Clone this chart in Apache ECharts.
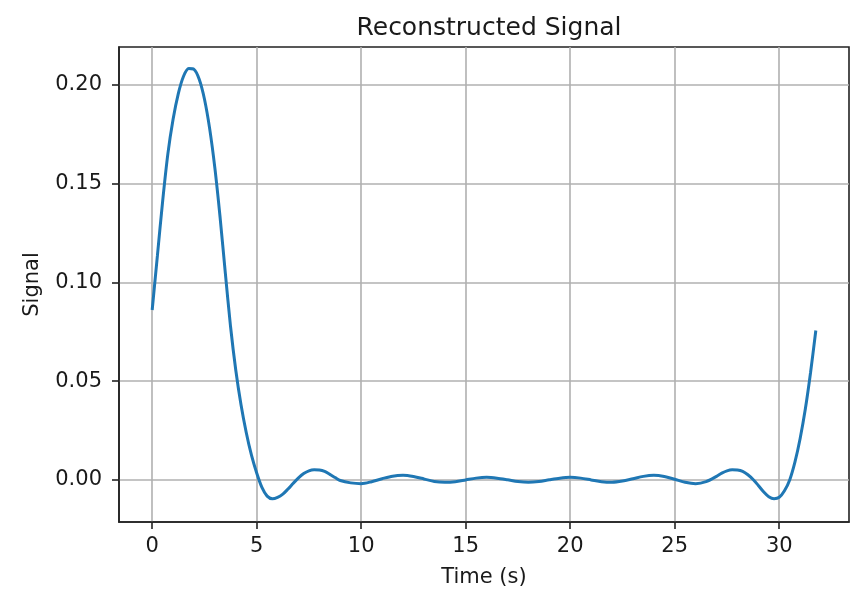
<!DOCTYPE html>
<html>
<head>
<meta charset="utf-8">
<script src="https://cdn.jsdelivr.net/npm/echarts@6/dist/echarts.min.js"></script>
<style>
html,body{margin:0;padding:0;background:#fff;}
#chart{width:857px;height:590px;}
</style>
</head>
<body>
<div id="chart"></div>
<script>
// Data
var timeValues = [0,0.25,0.5,0.75,1,1.25,1.5,1.75,2,2.25,2.5,2.75,3,3.25,3.5,3.75,4,4.25,4.5,4.75,5,5.25,5.5,5.75,6,6.25,6.5,6.75,7,7.25,7.5,7.75,8,8.25,8.5,8.75,9,9.5,10,10.5,11,11.5,12,12.5,13,13.5,14,14.5,15,15.5,16,16.5,17,17.5,18,18.5,19,19.5,20,20.5,21,21.5,22,22.5,23,23.5,24,24.5,25,25.5,26,26.5,27,27.25,27.5,27.75,28,28.25,28.5,28.75,29,29.25,29.5,29.75,30,30.25,30.5,30.75,31,31.25,31.5,31.75];
var signalValues = [0.086,0.1135,0.141,0.165,0.1825,0.1955,0.2043,0.2082,0.2078,0.2028,0.1928,0.1778,0.1578,0.1328,0.1047,0.0775,0.0555,0.038,0.024,0.0125,0.0035,-0.0038,-0.0082,-0.0095,-0.0088,-0.0072,-0.0046,-0.0017,0.001,0.0032,0.0046,0.0051,0.005,0.0043,0.0028,0.0012,-0.0003,-0.0015,-0.0019,-0.0009,0.0006,0.0019,0.0023,0.0017,0.0005,-0.0008,-0.0012,-0.0009,0.0000,0.0009,0.0013,0.0009,0.0001,-0.0008,-0.0012,-0.0008,0.0001,0.0009,0.0013,0.0009,0.0000,-0.0009,-0.0012,-0.0006,0.0006,0.0018,0.0023,0.0017,0.0003,-0.0012,-0.0019,-0.0009,0.0018,0.0034,0.0046,0.0051,0.005,0.0043,0.0026,0.0002,-0.0028,-0.006,-0.0085,-0.0095,-0.0088,-0.0055,0.0,0.009,0.021,0.036,0.0545,0.0756];
var xTicks = [0,5,10,15,20,25,30];
var yTicks = [0,0.05,0.10,0.15,0.20];
var titleText = 'Reconstructed Signal';
var xName = 'Time (s)';
var yName = 'Signal';

var seriesData = timeValues.map(function(t,i){return [t, signalValues[i]];});
var font = 'DejaVu Sans';
var axisColor = '#222';
var chart = echarts.init(document.getElementById('chart'), null, {renderer:'canvas'});
chart.setOption({
  animation:false,
  backgroundColor:'#fff',
  title:{text:titleText,left:484,textAlign:'center',top:11,
    textStyle:{fontFamily:font,fontSize:25,fontWeight:'normal',color:'#1a1a1a'}},
  grid:{left:119,right:8,top:47,bottom:68,show:true,borderColor:axisColor,borderWidth:1.6,
    backgroundColor:'transparent',containLabel:false,outerBoundsMode:'none'},
  xAxis:{type:'value',min:-1.5875,max:33.3375,
    name:xName,nameLocation:'middle',nameGap:45,
    nameTextStyle:{fontFamily:font,fontSize:21,color:'#1a1a1a'},
    axisLine:{show:true,onZero:false,lineStyle:{color:axisColor,width:1.6}},
    axisTick:{show:true,inside:false,length:7,customValues:xTicks,lineStyle:{color:axisColor,width:1.6}},
    axisLabel:{customValues:xTicks,margin:14,fontFamily:font,fontSize:21,color:'#1a1a1a'},
    splitLine:{show:true,lineStyle:{color:'#b0b0b0',width:1.6}}
  },
  yAxis:{type:'value',min:-0.0213,max:0.2191,
    name:yName,nameLocation:'middle',nameGap:76,
    nameTextStyle:{fontFamily:font,fontSize:21,color:'#1a1a1a'},
    axisLine:{show:true,onZero:false,lineStyle:{color:axisColor,width:1.6}},
    axisTick:{show:true,inside:false,length:7,customValues:yTicks,lineStyle:{color:axisColor,width:1.6}},
    axisLabel:{customValues:yTicks,margin:17,fontFamily:font,fontSize:21,color:'#1a1a1a',
      formatter:function(v){return v.toFixed(2);}},
    splitLine:{show:true,lineStyle:{color:'#b0b0b0',width:1.6}}
  },
  series:[{type:'line',data:seriesData,showSymbol:false,smooth:0.3,
    lineStyle:{color:'#1f77b4',width:3},z:3}]
});
</script>
</body>
</html>
